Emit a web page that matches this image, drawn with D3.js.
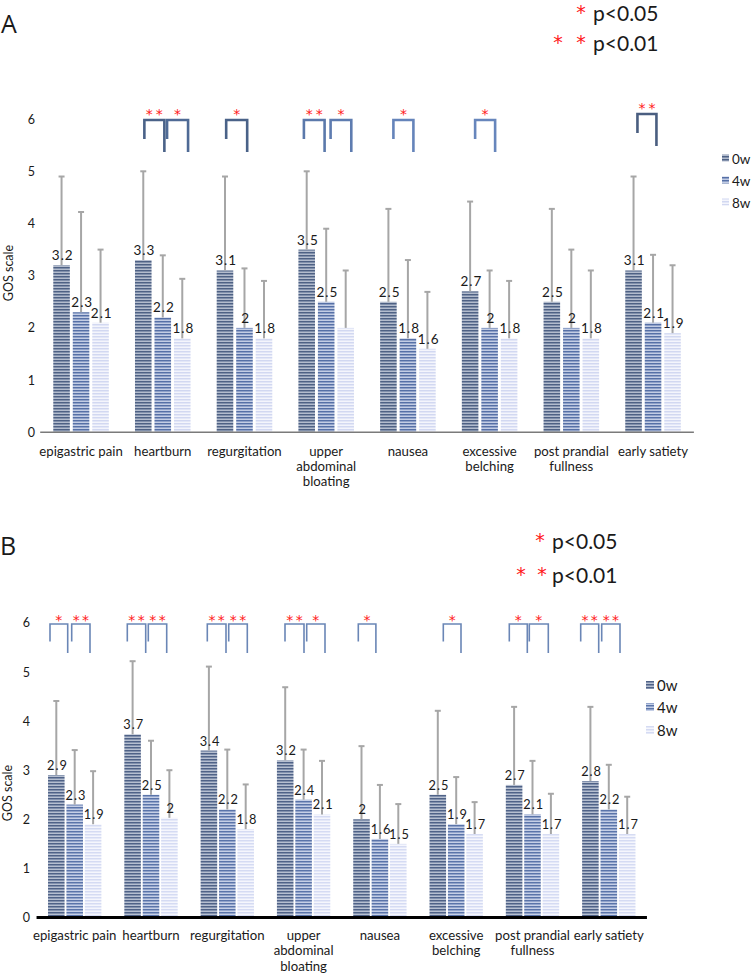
<!DOCTYPE html>
<html>
<head>
<meta charset="utf-8">
<script src="https://cdn.jsdelivr.net/npm/d3@7"></script>
<style>
  html, body { margin: 0; padding: 0; background: #fff; }
  svg { display: block; }
  text { font-family: Lato, "Open Sans", sans-serif; fill: #1a1a1a; }
</style>
</head>
<body>
<svg id="chart" width="751" height="974"></svg>
<script>
// ---------------- DATA ----------------
const categories = ["epigastric pain", "heartburn", "regurgitation", "upper abdominal bloating",
                    "nausea", "excessive belching", "post prandial fullness", "early satiety"];
const categoryLines = [["epigastric pain"], ["heartburn"], ["regurgitation"], ["upper", "abdominal", "bloating"],
                       ["nausea"], ["excessive", "belching"], ["post prandial", "fullness"], ["early satiety"]];
const seriesNames = ["0w", "4w", "8w"];
const yTicks = [0, 1, 2, 3, 4, 5, 6];

// Panel A: means and upper error bar ends
const a0w = [3.2, 3.3, 3.1, 3.5, 2.5, 2.7, 2.5, 3.1];
const a4w = [2.3, 2.2, 2.0, 2.5, 1.8, 2.0, 2.0, 2.1];
const a8w = [2.1, 1.8, 1.8, 2.0, 1.6, 1.8, 1.8, 1.9];
const aErr0w = [4.9, 5.0, 4.9, 5.0, 4.28, 4.42, 4.28, 4.9];
const aErr4w = [4.22, 3.39, 3.14, 3.9, 3.3, 3.1, 3.5, 3.4];
const aErr8w = [3.5, 2.94, 2.9, 3.1, 2.69, 2.9, 3.1, 3.2];
const aShowLabel8w = [true, true, true, false, true, true, true, true];
const aSig = [
  { cat: 1, from: 0, to: 1, stars: "**" },
  { cat: 1, from: 1, to: 2, stars: "*" },
  { cat: 2, from: 0, to: 1, stars: "*" },
  { cat: 3, from: 0, to: 1, stars: "**" },
  { cat: 3, from: 1, to: 2, stars: "*" },
  { cat: 4, from: 0, to: 1, stars: "*" },
  { cat: 5, from: 0, to: 1, stars: "*" },
  { cat: 7, from: 0, to: 1, stars: "**" }
];

// Panel B
const b0w = [2.9, 3.73, 3.4, 3.2, 2.0, 2.5, 2.7, 2.78];
const b4w = [2.3, 2.5, 2.2, 2.4, 1.6, 1.9, 2.1, 2.2];
const b8w = [1.9, 2.03, 1.8, 2.1, 1.5, 1.7, 1.7, 1.7];
const bLabel0w = [2.9, 3.7, 3.4, 3.2, 2, 2.5, 2.7, 2.8];
const bLabel8w = [1.9, 2, 1.8, 2.1, 1.5, 1.7, 1.7, 1.7];
const bErr0w = [4.41, 5.22, 5.11, 4.69, 3.49, 4.21, 4.29, 4.29];
const bErr4w = [3.41, 3.6, 3.42, 3.42, 2.7, 2.86, 3.19, 3.11];
const bErr8w = [2.98, 3.0, 2.71, 3.19, 2.31, 2.35, 2.52, 2.46];
const bSig = [
  { cat: 0, from: 0, to: 1, stars: "*" },
  { cat: 0, from: 1, to: 2, stars: "**" },
  { cat: 1, from: 0, to: 1, stars: "**" },
  { cat: 1, from: 1, to: 2, stars: "**" },
  { cat: 2, from: 0, to: 1, stars: "**" },
  { cat: 2, from: 1, to: 2, stars: "**" },
  { cat: 3, from: 0, to: 1, stars: "**" },
  { cat: 3, from: 1, to: 2, stars: "*" },
  { cat: 4, from: 0, to: 1, stars: "*" },
  { cat: 5, from: 0, to: 1, stars: "*" },
  { cat: 6, from: 0, to: 1, stars: "*" },
  { cat: 6, from: 1, to: 2, stars: "*" },
  { cat: 7, from: 0, to: 1, stars: "**" },
  { cat: 7, from: 1, to: 2, stars: "**" }
];

// ---------------- LAYOUT / STYLE ----------------
const svg = d3.select("#chart");
const defs = svg.append("defs");

const stripeStyles = {
  A: [["#4e6184", "#8190ab", "#b3bccd"], ["#5670a6", "#8fa1c8", "#c3cde4"], ["#d2d8f1", "#e3e7f7", "#f4f5fc"]],
  B: [["#4f6287", "#8291ad", "#b6bfd0"], ["#5a74a9", "#91a3ca", "#c5cfe6"], ["#d5dbf3", "#e5e9f8", "#f5f6fd"]]
};
Object.entries(stripeStyles).forEach(([panel, sets]) => {
  sets.forEach((cols, i) => {
    const p = defs.append("pattern").attr("id", `stripe${panel}${i}`)
      .attr("patternUnits", "userSpaceOnUse").attr("width", 8).attr("height", 3);
    p.append("rect").attr("width", 8).attr("height", 1).attr("y", 0).attr("fill", cols[0]);
    p.append("rect").attr("width", 8).attr("height", 1).attr("y", 1).attr("fill", cols[1]);
    p.append("rect").attr("width", 8).attr("height", 1).attr("y", 2).attr("fill", cols[2]);
  });
});

const fmt = v => (Math.round(v * 10) % 10 === 0 ? String(Math.round(v)) : v.toFixed(1));

function drawPanel(cfg) {
  const g = svg.append("g");
  const y = d3.scaleLinear().domain([0, 6]).range([cfg.yZero, cfg.yTop]);
  const x0 = d3.scaleBand().domain(categories).range(cfg.xRange).padding(0);
  const x1 = d3.scaleBand().domain(seriesNames).range([-cfg.innerHalf, cfg.innerHalf])
    .paddingInner(cfg.innerPad).paddingOuter(cfg.innerPad / 2);
  const cx = (ci, si) => x0(categories[ci]) + x0.bandwidth() / 2 + x1(seriesNames[si]) + x1.bandwidth() / 2;

  // y tick labels
  const yAxis = g.append("g").attr("transform", `translate(${cfg.tickX},0)`)
    .call(d3.axisLeft(y).tickValues(yTicks).tickSize(0).tickPadding(0).tickFormat(d3.format("d")));
  yAxis.select(".domain").remove();
  yAxis.selectAll("text").style("font-family", "Lato, sans-serif").style("font-size", "12.5px").attr("fill", "#222");

  // y title
  g.append("text").attr("transform", `translate(${cfg.titleX},${cfg.titleY}) rotate(-90)`)
    .attr("text-anchor", "middle").style("font-size", "12.5px").text("GOS scale");

  // bars
  const rows = [];
  cfg.values.forEach((vals, si) => vals.forEach((v, ci) => rows.push({ si, ci, v, err: cfg.errs[si][ci], label: cfg.labels[si][ci] })));
  g.append("g").selectAll("rect").data(rows).join("rect")
    .attr("x", d => cx(d.ci, d.si) - x1.bandwidth() / 2)
    .attr("width", x1.bandwidth())
    .attr("y", d => y(d.v))
    .attr("height", d => y(0) - y(d.v))
    .attr("fill", d => `url(#stripe${cfg.id}${d.si})`);

  // error bars (upper only)
  const eb = g.append("g").attr("stroke", "#a6a6a6").attr("stroke-width", 2);
  eb.selectAll("line.v").data(rows).join("line").attr("class", "v")
    .attr("x1", d => cx(d.ci, d.si)).attr("x2", d => cx(d.ci, d.si))
    .attr("y1", d => y(d.v)).attr("y2", d => y(d.err));
  eb.selectAll("line.c").data(rows).join("line").attr("class", "c")
    .attr("x1", d => cx(d.ci, d.si) - 3).attr("x2", d => cx(d.ci, d.si) + 3)
    .attr("y1", d => y(d.err)).attr("y2", d => y(d.err));

  // value labels (drawn over the error bar lines)
  g.append("g").selectAll("text").data(rows.filter(d => d.label !== null)).join("text")
    .attr("x", d => cx(d.ci, d.si) + 1.2)
    .attr("y", d => y(d.v) - 5)
    .attr("text-anchor", "middle")
    .style("font-size", cfg.labelFont + "px").style("letter-spacing", "1px")
    .text(d => fmt(d.label));

  // x axis line
  g.append("line").attr("x1", cfg.xRange[0]).attr("x2", cfg.xRange[1])
    .attr("y1", y(0)).attr("y2", y(0))
    .attr("stroke", cfg.axisColor).attr("stroke-width", cfg.axisWidth);

  // category labels
  const cl = g.append("g").selectAll("text").data(categories).join("text")
    .attr("x", d => x0(d) + x0.bandwidth() / 2)
    .attr("y", y(0) + cfg.catOffset)
    .attr("text-anchor", "middle")
    .style("font-size", "13.2px");
  cl.each(function (d, i) {
    d3.select(this).selectAll("tspan").data(categoryLines[i]).join("tspan")
      .attr("x", x0(d) + x0.bandwidth() / 2)
      .attr("dy", (t, k) => (k === 0 ? 0 : cfg.lineH))
      .text(t => t);
  });

  // significance brackets
  const bg = g.append("g").attr("fill", "none");
  cfg.sig.forEach((s, k) => {
    const n = cfg.nudge[k];
    const xl = cx(s.cat, s.from) + n[0];
    const xr = cx(s.cat, s.to) + n[1];
    const top = n[2] !== undefined ? n[2] : cfg.brTop;
    const lo = cfg.brLeft - cfg.brTop, ro = cfg.brRight - cfg.brTop;
    bg.append("path")
      .attr("d", `M${xl},${top + lo}V${top}H${xr}V${top + ro}`)
      .attr("stroke", cfg.brColor[k] || cfg.brColor[0])
      .attr("stroke-width", cfg.brWidth);
    const mid = (xl + xr) / 2;
    const nStars = s.stars.length;
    for (let j = 0; j < nStars; j++) {
      g.append("text")
        .attr("x", mid + (j - (nStars - 1) / 2) * cfg.starGap)
        .attr("y", top - cfg.starAbove + 8)
        .attr("text-anchor", "middle")
        .style("font-family", "'DejaVu Sans', sans-serif")
        .style("font-size", "14px")
        .style("fill", "#ff1a1a")
        .text("*");
    }
  });

  // legend
  const lg = g.append("g");
  seriesNames.forEach((s, i) => {
    const ly = cfg.legY[i];
    lg.append("rect").attr("x", cfg.legX).attr("y", ly - cfg.legSq / 2 - 1)
      .attr("width", cfg.legSq).attr("height", cfg.legSq).attr("fill", `url(#stripe${cfg.id}${i})`);
    lg.append("text").attr("x", cfg.legX + cfg.legSq + 3).attr("y", ly + 4.5)
      .style("font-size", cfg.legFont + "px").text(s);
  });

  // panel letter
  g.append("text").attr("x", cfg.letterX).attr("y", cfg.letterY)
    .style("font-size", "25px").style("font-family", "'Open Sans', sans-serif").text(cfg.id);

  // p-value key
  const pk = g.append("g");
  cfg.pKey.forEach((row) => {
    row.starsX.forEach(sx => {
      pk.append("text").attr("x", sx).attr("y", row.y - 2)
        .attr("text-anchor", "middle")
        .style("font-family", "'DejaVu Sans', sans-serif").style("font-size", "19px")
        .style("fill", "#ff1a1a").text("*");
    });
    pk.append("text").attr("x", cfg.pTextX).attr("y", row.y)
      .style("font-size", "21px").text(row.text);
  });
}

drawPanel({
  id: "A",
  values: [a0w, a4w, a8w],
  errs: [aErr0w, aErr4w, aErr8w],
  labels: [a0w, a4w, a8w.map((v, i) => (aShowLabel8w[i] ? v : null))],
  yZero: 432.3, yTop: 119.1,
  xRange: [40.2, 693.9],
  innerHalf: 29.25, innerPad: 0.15, labelFont: 13.5,
  tickX: 35, titleX: 13, titleY: 273,
  axisColor: "#7a7a7a", axisWidth: 1.6,
  catOffset: 24, lineH: 15,
  sig: aSig,
  nudge: [[1.1, 1.6], [4.3, 5.8], [1.2, 2.7], [-2.8, -1.6], [4.4, 5.6], [5, 5.5], [5, 5.5], [3.9, 3.4, 114]],
  brTop: 120, brLeft: 139, brRight: 152,
  brColor: ["#4a6288", "#4f6a95", "#4a6288", "#5b79ab", "#5e7cb0", "#6584ba", "#6786bc", "#4a5e80"],
  brWidth: 2.6, starGap: 10, starAbove: 9.3,
  legX: 722, legSq: 7, legY: [159, 181, 203], legFont: 13.5,
  letterX: 1, letterY: 33,
  pTextX: 593,
  pKey: [{ y: 21, text: "p<0.05", starsX: [581] }, { y: 51, text: "p<0.01", starsX: [558, 581] }]
});

drawPanel({
  id: "B",
  values: [b0w, b4w, b8w],
  errs: [bErr0w, bErr4w, bErr8w],
  labels: [bLabel0w, b4w, bLabel8w],
  yZero: 917.5, yTop: 622.9,
  xRange: [36.55, 646.95],
  innerHalf: 27.6, innerPad: 0.1, labelFont: 12.8,
  tickX: 30, titleX: 12, titleY: 793,
  axisColor: "#000", axisWidth: 3,
  catOffset: 22, lineH: 15.5,
  sig: bSig,
  nudge: [[-6.3, -7.0], [-3.0, -3.1], [-5.3, -5.3], [-2.7, -2.7], [-1.6, -1.3], [1.4, 1.6], [-0.2, 0.4], [3.1, 3.0],
          [-3.2, -4.0], [5.5, 4.8], [-4.8, -5.2], [-3.2, -2.6], [-9.7, -10.1], [-7.1, -7.2]],
  brTop: 624, brLeft: 641.5, brRight: 653,
  brColor: ["#6a86b6"],
  brWidth: 1.6, starGap: 9.3, starAbove: 6.7,
  legX: 646, legSq: 8, legY: [686, 708, 731], legFont: 15,
  letterX: 0, letterY: 555,
  pTextX: 552,
  pKey: [{ y: 549, text: "p<0.05", starsX: [540] }, { y: 583, text: "p<0.01", starsX: [521, 542] }]
});
</script>
</body>
</html>
